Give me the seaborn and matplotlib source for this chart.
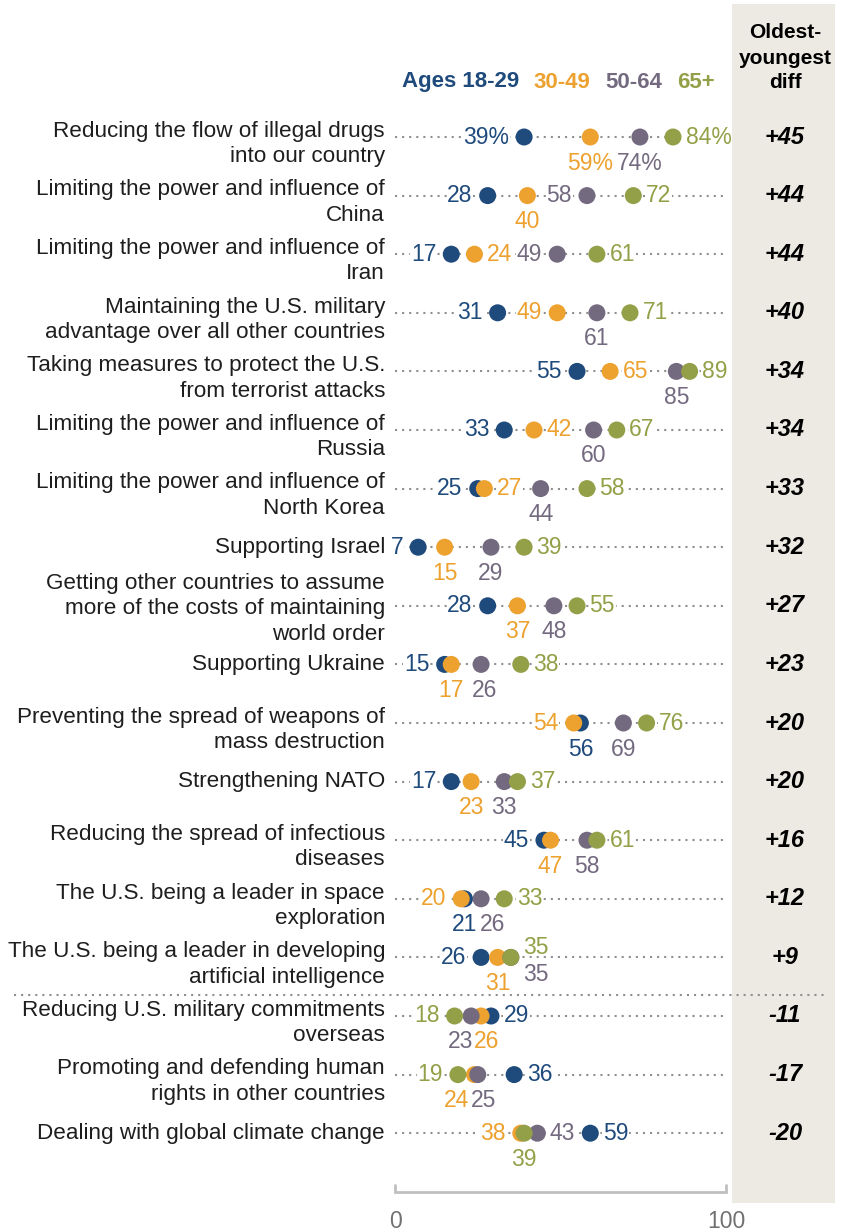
import numpy as np
import pandas as pd
import matplotlib.pyplot as plt
from matplotlib.patches import Rectangle
from matplotlib.lines import Line2D
import seaborn as sns

sns.set_style("white")
plt.rcParams['font.family'] = ['Liberation Sans', 'DejaVu Sans']

# --- data -------------------------------------------------------------
categories = [
    "Reducing the flow of illegal drugs\ninto our country",
    "Limiting the power and influence of\nChina",
    "Limiting the power and influence of\nIran",
    "Maintaining the U.S. military\nadvantage over all other countries",
    "Taking measures to protect the U.S.\nfrom terrorist attacks",
    "Limiting the power and influence of\nRussia",
    "Limiting the power and influence of\nNorth Korea",
    "Supporting Israel",
    "Getting other countries to assume\nmore of the costs of maintaining\nworld order",
    "Supporting Ukraine",
    "Preventing the spread of weapons of\nmass destruction",
    "Strengthening NATO",
    "Reducing the spread of infectious\ndiseases",
    "The U.S. being a leader in space\nexploration",
    "The U.S. being a leader in developing\nartificial intelligence",
    "Reducing U.S. military commitments\noverseas",
    "Promoting and defending human\nrights in other countries",
    "Dealing with global climate change",
]
ages = ["18-29", "30-49", "50-64", "65+"]
age_18_29 = [39, 28, 17, 31, 55, 33, 25, 7, 28, 15, 56, 17, 45, 21, 26, 29, 36, 59]
age_30_49 = [59, 40, 24, 49, 65, 42, 27, 15, 37, 17, 54, 23, 47, 20, 31, 26, 24, 38]
age_50_64 = [74, 58, 49, 61, 85, 60, 44, 29, 48, 26, 69, 33, 58, 26, 35, 23, 25, 43]
age_65_up = [84, 72, 61, 71, 89, 67, 58, 39, 55, 38, 76, 37, 61, 33, 35, 18, 19, 39]

# where each value label sits: l=left, r=right, b=below, a=above
label_side = ["lbbr", "lblr", "lrlr", "llbr", "lrbr", "lrbr", "lrbr", "lbbr", "lbbr",
              "lbbr", "blbr", "lbbr", "lbbr", "blbr", "lbba", "rbbl", "rbbl", "rlrb"]
# extra nudges (pixels, x right / y down) for crowded labels: (row, series)
nudges = {(9, 2): (4, 0), (13, 2): (12, 0), (14, 2): (25, -9), (14, 3): (25, 16),
          (15, 1): (6, 0), (15, 2): (-11, 0), (16, 1): (-18, 0), (16, 2): (6, 0)}

colors = {"18-29": "#1f4a7c", "30-49": "#eda12f", "50-64": "#746a80", "65+": "#94a048"}

series = [age_18_29, age_30_49, age_50_64, age_65_up]
rows = []
for a, vals in zip(ages, series):
    for i, v in enumerate(vals):
        rows.append({"row": i, "age": a, "value": v})
df = pd.DataFrame(rows)
diffs = [o - y for o, y in zip(age_65_up, age_18_29)]

# --- layout -----------------------------------------------------------
W, H = 848, 1232
X0, X1 = 395, 726
ROW0, STEP = 137, 58.6

fig = plt.figure(figsize=(W / 100, H / 100), dpi=100)
ax = fig.add_axes([X0 / W, 0, (X1 - X0) / W, 1])
ax.set_xlim(0, 100)
ax.set_ylim((H - ROW0) / STEP, -ROW0 / STEP)
ax.axis("off")


def fy(ypx):
    return 1 - ypx / H


def dy(ypx):
    return (ypx - ROW0) / STEP


n = len(categories)
ax.hlines(range(n), 0, 100, colors="#8f8f8f", linestyles=(0, (1, 2.4)),
          linewidth=1.5, zorder=1)

sns.scatterplot(data=df, x="value", y="row", hue="age", palette=colors,
                s=150, edgecolor="none", linewidth=0, legend=False, ax=ax, zorder=4)

FS = 16.5
base = {"l": (-15, 0), "r": (12.5, 0), "b": (0, 26), "a": (0, -26)}
halign = {"l": "right", "r": "left", "b": "center", "a": "center"}
for j, (a, vals) in enumerate(zip(ages, series)):
    for i, v in enumerate(vals):
        txt = f"{v}%" if i == 0 else f"{v}"
        side = label_side[i][j]
        bx, by = base[side]
        nx, ny = nudges.get((i, j), (0, 0))
        ox, oy = (bx + nx) * 0.72, -(by + ny) * 0.72
        box = None
        if side in "lr":
            box = dict(boxstyle="square,pad=0.03", fc="white", ec="none")
        ax.annotate(txt, (v, i), xytext=(ox, oy), textcoords="offset points",
                    ha=halign[side], va="center", color=colors[a], fontsize=FS,
                    bbox=box, zorder=3)

# shaded diff column (drawn over the plot area edge)
fig.add_artist(Rectangle((732 / W, fy(1203)), 103 / W, 1199 / H,
                         transform=fig.transFigure, facecolor="#edeae3",
                         edgecolor="none", zorder=1))

# category labels and diffs
line_off = {1: 0, 2: 7, 3: 3}
for i, cat in enumerate(categories):
    nl = cat.count("\n") + 1
    ypx = ROW0 + STEP * i + line_off[nl]
    fig.text(385 / W, fy(ypx), cat, ha="right", va="center", fontsize=16.2,
             color="#1e1e1e", linespacing=1.27)
    d = diffs[i]
    fig.text(785 / W, fy(ROW0 + STEP * i), f"{d:+d}", ha="center", va="center",
             fontsize=17, fontweight="bold", fontstyle="italic", color="black", zorder=3)

# separator between positive and negative diffs
fig.add_artist(Line2D([14 / W, 827 / W], [fy(995), fy(995)], transform=fig.transFigure,
                      color="#8f8f8f", linestyle=(0, (1, 2.4)), linewidth=1.5, zorder=5))

# headers
hdr_x = [402, 533, 605, 677]
hdr_txt = ["Ages 18-29", "30-49", "50-64", "65+"]
for x, t, a in zip(hdr_x, hdr_txt, ages):
    fig.text(x / W, fy(82), t, ha="left", va="center", fontsize=16,
             fontweight="bold", color=colors[a])
fig.text(785 / W, fy(58), "Oldest-\nyoungest\ndiff", ha="center", va="center",
         fontsize=15, fontweight="bold", color="black", linespacing=1.4, zorder=3)

# bottom scale
yb = dy(1192)
ax.plot([0, 0, 100, 100], [yb - 0.12, yb, yb, yb - 0.12], color="#c0c0c0",
        linewidth=2, clip_on=False, solid_joinstyle="miter")
for v in [0, 100]:
    ax.text(v, dy(1222), str(v), ha="center", va="center", fontsize=FS, color="#707070")

fig.savefig("out.png", dpi=100)
